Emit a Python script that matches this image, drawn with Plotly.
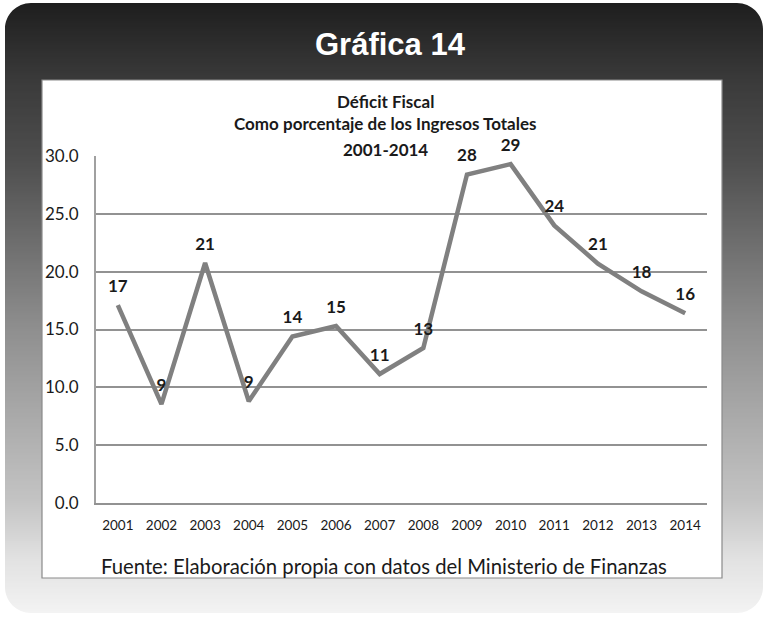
import numpy as np
import plotly.graph_objects as go

# ---- data ----
years = [str(y) for y in range(2001, 2015)]
deficit = [17.1, 8.55, 20.75, 8.8, 14.4, 15.3, 11.15, 13.4, 28.4, 29.3, 24.0, 20.7, 18.3, 16.4]
labels = ["17", "9", "21", "9", "14", "15", "11", "13", "28", "29", "24", "21", "18", "16"]
y_ticks = [0, 5, 10, 15, 20, 25, 30]
y_ticktext = ["0.0", "5.0", "10.0", "15.0", "20.0", "25.0", "30.0"]

# ---- geometry ----
W, H = 768, 627
ML, MR, MT, MB = 96, 61, 156, 124
PW = W - ML - MR
PH = H - MT - MB


def px(x):
    return (x - ML) / PW


def py(y):
    return (H - MB - y) / PH


fig = go.Figure()

fig.add_trace(go.Scatter(
    x=years, y=deficit, mode="lines",
    line=dict(color="#808080", width=4.5),
    hoverinfo="skip", showlegend=False,
))
fig.add_trace(go.Scatter(
    x=years, y=deficit, mode="markers+text", text=labels,
    textposition="top center", cliponaxis=False,
    textfont=dict(family="Lato", size=17, color="#1a1a1a", weight="bold"),
    marker=dict(size=13, color="rgba(0,0,0,0)"),
    hoverinfo="skip", showlegend=False,
))

shapes = []
# outer box gradient (stripes)
bx0, bx1, by0, by1 = 5, 763, 3, 613
stops_y = [3, 80, 160, 330, 503, 560, 613]
stops_v = [30, 58, 78, 143, 196, 226, 243]
step = 2
yy = by0
while yy < by1:
    v = int(round(np.interp(yy + step / 2, stops_y, stops_v)))
    col = f"rgb({v},{v},{v})"
    shapes.append(dict(type="rect", xref="paper", yref="paper",
                       x0=px(bx0), x1=px(bx1), y0=py(yy), y1=py(min(yy + step + 0.6, by1)),
                       fillcolor=col, line=dict(width=0), layer="below"))
    yy += step

# rounded corner masks
r = 26
k = 0.5523


def corner(cx, cy, sx, sy):
    p = [
        (cx, cy),
        (cx + sx * r, cy),
        (cx + sx * r * (1 - k), cy),
        (cx, cy + sy * r * (1 - k)),
        (cx, cy + sy * r),
    ]
    q = [(px(a), py(b)) for a, b in p]
    return (f"M{q[0][0]},{q[0][1]} L{q[1][0]},{q[1][1]} "
            f"C{q[2][0]},{q[2][1]} {q[3][0]},{q[3][1]} {q[4][0]},{q[4][1]} Z")


for cx, cy, sx, sy in [(bx0, by0, 1, 1), (bx1, by0, -1, 1), (bx0, by1, 1, -1), (bx1, by1, -1, -1)]:
    shapes.append(dict(type="path", xref="paper", yref="paper", path=corner(cx, cy, sx, sy),
                       fillcolor="white", line=dict(width=0), layer="below"))

# white inner panel
shapes.append(dict(type="rect", xref="paper", yref="paper",
                   x0=px(42), x1=px(722), y0=py(80), y1=py(578),
                   fillcolor="white", line=dict(color="#8a8a8a", width=1.2), layer="below"))

title_font = dict(family="Lato", size=17, color="#1a1a1a")
annotations = [
    dict(text="<b>Gráfica 14</b>", x=px(390), y=py(45), xref="paper", yref="paper",
         showarrow=False, font=dict(family="Liberation Sans", size=31, color="white"),
         xanchor="center", yanchor="middle"),
    dict(text="<b>Déficit Fiscal</b>", x=px(385), y=py(101), xref="paper", yref="paper",
         showarrow=False, font=title_font, xanchor="center", yanchor="middle"),
    dict(text="<b>Como porcentaje de los Ingresos Totales</b>", x=px(385), y=py(124),
         xref="paper", yref="paper", showarrow=False,
         font=title_font, xanchor="center", yanchor="middle"),
    dict(text="<b>2001-2014</b>", x=px(385), y=py(149), xref="paper", yref="paper",
         showarrow=False, font=title_font, xanchor="center", yanchor="middle"),
    dict(text="Fuente: Elaboración propia con datos del Ministerio de Finanzas",
         x=px(384), y=py(566), xref="paper", yref="paper", showarrow=False,
         font=dict(family="Lato", size=20.3, color="#1a1a1a"), xanchor="center", yanchor="middle"),
]

fig.update_layout(
    width=W, height=H,
    margin=dict(l=ML, r=MR, t=MT, b=MB, pad=0),
    paper_bgcolor="white", plot_bgcolor="rgba(0,0,0,0)",
    shapes=shapes, annotations=annotations, showlegend=False,
    xaxis=dict(type="category", range=[-0.5, 13.5], showgrid=False, zeroline=False,
               showline=True, linecolor="#929292", linewidth=1.6,
               ticks="outside", ticklen=9, tickcolor="rgba(0,0,0,0)",
               tickfont=dict(family="Lato", size=13.5, color="#1a1a1a"), fixedrange=True),
    yaxis=dict(range=[0, 30], tickvals=y_ticks, ticktext=y_ticktext,
               showgrid=True, gridcolor="#929292", gridwidth=1.6,
               zeroline=False, showline=True, linecolor="#a0a0a0", linewidth=2,
               ticks="outside", ticklen=12, tickcolor="rgba(0,0,0,0)",
               tickfont=dict(family="Lato", size=17, color="#1a1a1a"), fixedrange=True),
)

fig.write_html("out.html", config={"displayModeBar": False},
               post_script="document.body.style.margin='0';")
